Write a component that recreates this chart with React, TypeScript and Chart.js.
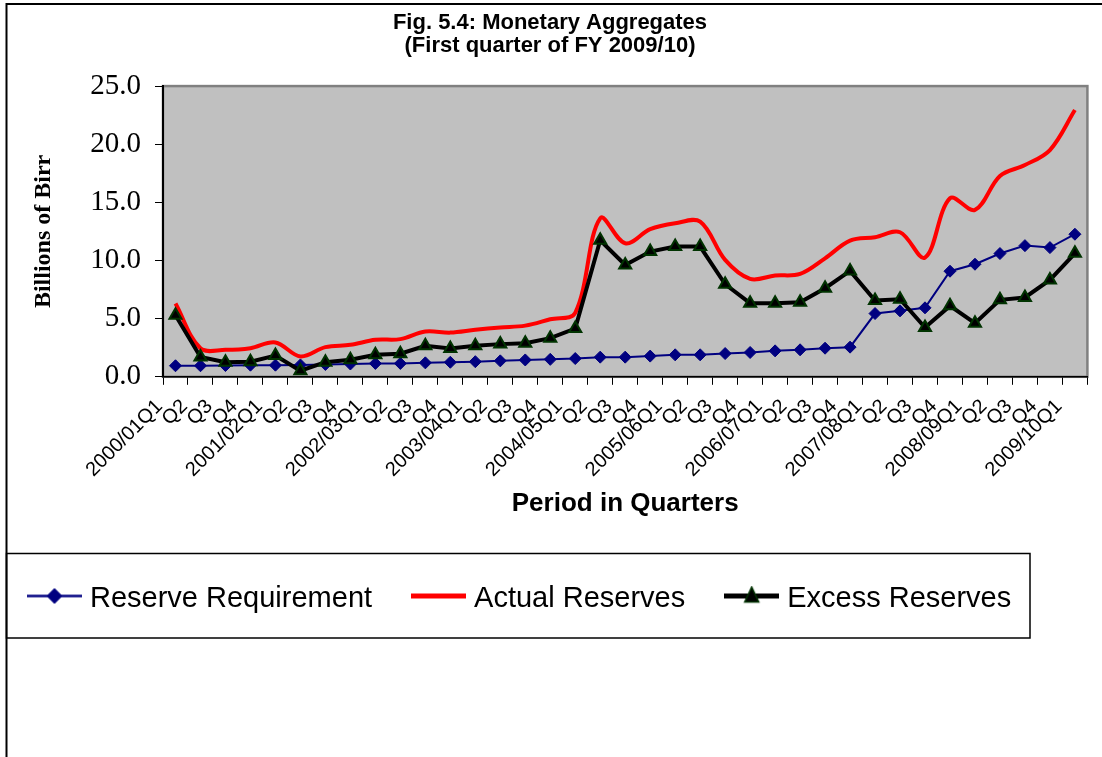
import React, { useEffect, useRef } from "react";
import { Chart, registerables } from "chart.js";

Chart.register(...registerables);

const quarterLabels = [
  "2000/01Q1", "Q2", "Q3", "Q4",
  "2001/02Q1", "Q2", "Q3", "Q4",
  "2002/03Q1", "Q2", "Q3", "Q4",
  "2003/04Q1", "Q2", "Q3", "Q4",
  "2004/05Q1", "Q2", "Q3", "Q4",
  "2005/06Q1", "Q2", "Q3", "Q4",
  "2006/07Q1", "Q2", "Q3", "Q4",
  "2007/08Q1", "Q2", "Q3", "Q4",
  "2008/09Q1", "Q2", "Q3", "Q4",
  "2009/10Q1",
];

const reserveRequirement = [
  0.95, 0.95, 0.97, 1.0, 1.0, 1.02, 1.06, 1.1, 1.15, 1.15, 1.2, 1.25, 1.3, 1.37, 1.45, 1.5, 1.57,
  1.69, 1.69, 1.78, 1.89, 1.89, 2.0, 2.09, 2.23, 2.32, 2.46, 2.55, 5.44, 5.67, 5.93, 9.08, 9.68,
  10.6, 11.28, 11.11, 12.26,
];

const actualReserves = [
  6.3, 2.45, 2.32, 2.46, 2.95, 1.75, 2.55, 2.75, 3.18, 3.24, 3.9, 3.8, 4.04, 4.24, 4.4, 4.95, 5.5,
  13.63, 11.48, 12.69, 13.2, 13.34, 10.05, 8.42, 8.71, 8.85, 10.19, 11.71, 12.0, 12.43, 10.25, 15.35,
  14.35, 17.27, 18.21, 19.5, 22.94,
];

const excessReserves = [
  5.3, 1.7, 1.26, 1.3, 1.83, 0.52, 1.26, 1.46, 1.89, 1.98, 2.66, 2.43, 2.66, 2.81, 2.89, 3.32, 4.15,
  11.74, 9.62, 10.77, 11.2, 11.2, 7.96, 6.33, 6.33, 6.41, 7.62, 9.1, 6.56, 6.67, 4.24, 6.1, 4.61,
  6.62, 6.82, 8.33, 10.62,
];

const yTickValues = [0, 5, 10, 15, 20, 25];

const seriesNames = ["Reserve Requirement", "Actual Reserves", "Excess Reserves"];

const SANS = '"Liberation Sans", Arial, Helvetica, sans-serif';
const SERIF = '"Liberation Serif", "Times New Roman", Times, serif';

type Marker = "none" | "diamond" | "triangle";

function makeLegendIcon(
  lineColor: string,
  lineWidth: number,
  marker: Marker,
  fill: string,
  stroke: string
): HTMLCanvasElement {
  const c = document.createElement("canvas");
  c.width = 55;
  c.height = 26;
  const ctx = c.getContext("2d") as CanvasRenderingContext2D;
  const cy = 10.5;
  const cx = 27.5;
  ctx.strokeStyle = lineColor;
  ctx.lineWidth = lineWidth;
  ctx.beginPath();
  ctx.moveTo(0, cy);
  ctx.lineTo(55, cy);
  ctx.stroke();
  if (marker === "diamond") {
    const r = 7.5;
    ctx.beginPath();
    ctx.moveTo(cx - r, cy);
    ctx.lineTo(cx, cy - r);
    ctx.lineTo(cx + r, cy);
    ctx.lineTo(cx, cy + r);
    ctx.closePath();
    ctx.fillStyle = fill;
    ctx.fill();
    ctx.strokeStyle = stroke;
    ctx.lineWidth = 1;
    ctx.stroke();
  } else if (marker === "triangle") {
    ctx.beginPath();
    ctx.moveTo(cx, cy - 9);
    ctx.lineTo(cx + 7, cy + 6);
    ctx.lineTo(cx - 7, cy + 6);
    ctx.closePath();
    ctx.fillStyle = fill;
    ctx.fill();
    ctx.strokeStyle = stroke;
    ctx.lineWidth = 1.5;
    ctx.stroke();
  }
  return c;
}

const framePlugin = {
  id: "frame",
  beforeDraw(chart: any) {
    const { ctx, chartArea: a } = chart;
    ctx.save();
    ctx.fillStyle = "#ffffff";
    ctx.fillRect(0, 0, chart.width, chart.height);
    // outer chart box (left and top edges visible)
    ctx.strokeStyle = "#000000";
    ctx.lineWidth = 2;
    ctx.beginPath();
    ctx.moveTo(6.5, chart.height);
    ctx.lineTo(6.5, 4);
    ctx.lineTo(chart.width, 4);
    ctx.stroke();
    // legend box
    ctx.lineWidth = 1.5;
    ctx.strokeRect(6.5, 553.5, 1023.5, 84.5);
    // plot area
    ctx.fillStyle = "#C0C0C0";
    ctx.fillRect(a.left, a.top, a.right - a.left, a.bottom - a.top);
    ctx.strokeStyle = "#808080";
    ctx.lineWidth = 2.5;
    ctx.strokeRect(a.left, a.top, a.right - a.left, a.bottom - a.top);
    ctx.restore();
  },
};

export default function App() {
  const ref = useRef<HTMLCanvasElement>(null);

  useEffect(() => {
    const canvas = ref.current;
    if (!canvas) return;
    const icons = [
      makeLegendIcon("#000080", 2.5, "diamond", "#000080", "#000080"),
      makeLegendIcon("#FF0000", 5, "none", "", ""),
      makeLegendIcon("#000000", 5, "triangle", "#000000", "#003300"),
    ];

    const chart = new Chart(canvas, {
      type: "line",
      data: {
        labels: quarterLabels,
        datasets: [
          {
            label: seriesNames[0],
            data: reserveRequirement,
            borderColor: "#000080",
            backgroundColor: "#000080",
            borderWidth: 2,
            pointStyle: "rectRot",
            pointRadius: 6,
            pointBackgroundColor: "#000080",
            pointBorderColor: "#000080",
            pointBorderWidth: 1,
            tension: 0,
            order: 3,
          },
          {
            label: seriesNames[1],
            data: actualReserves,
            borderColor: "#FF0000",
            backgroundColor: "#FF0000",
            borderWidth: 4,
            pointRadius: 0,
            tension: 0.35,
            order: 2,
          },
          {
            label: seriesNames[2],
            data: excessReserves,
            borderColor: "#000000",
            backgroundColor: "#000000",
            borderWidth: 4,
            pointStyle: "triangle",
            pointRadius: 7,
            pointBackgroundColor: "#000000",
            pointBorderColor: "#003300",
            pointBorderWidth: 2,
            tension: 0,
            order: 1,
          },
        ],
      },
      options: {
        responsive: false,
        animation: false,
        devicePixelRatio: 1,
        events: [],
        layout: { padding: { left: -12, right: -10, top: 0, bottom: 134 } },
        plugins: {
          title: {
            display: true,
            text: ["Fig. 5.4: Monetary Aggregates", "(First quarter of FY 2009/10)"],
            font: { family: SANS, size: 22, weight: "bold", lineHeight: 1.07 },
            color: "#000000",
            padding: { top: 11, bottom: 28 },
          },
          legend: {
            display: true,
            position: "bottom",
            align: "start",
            labels: {
              usePointStyle: true,
              pointStyleWidth: 42,
              padding: 45.5,
              color: "#000000",
              font: { family: SANS, size: 29 },
              generateLabels: (ch: any) => {
                const items = (Chart.defaults as any).plugins.legend.labels.generateLabels(ch);
                items.forEach((it: any) => {
                  it.pointStyle = icons[it.datasetIndex];
                  it.rotation = 0;
                });
                return items;
              },
              sort: (a: any, b: any) => a.datasetIndex - b.datasetIndex,
            },
          },
          tooltip: { enabled: false },
        },
        scales: {
          x: {
            type: "category",
            offset: true,
            ticks: {
              autoSkip: false,
              minRotation: 45,
              maxRotation: 45,
              labelOffset: -16,
              padding: 10,
              color: "#000000",
              font: { family: SANS, size: 20 },
            },
            grid: {
              offset: true,
              drawOnChartArea: false,
              drawTicks: true,
              tickLength: 8,
              color: "#000000",
              lineWidth: 1,
            },
            border: { display: true, color: "#000000", width: 1.5 },
            title: {
              display: true,
              text: "Period in Quarters",
              color: "#000000",
              font: { family: SANS, size: 26, weight: "bold", lineHeight: 1.2 },
              padding: { top: 0, bottom: 19 },
            },
            afterFit: (s: any) => {
              s.height = 161.7;
            },
          },
          y: {
            type: "linear",
            position: "left",
            min: 0,
            max: 25,
            afterBuildTicks: (s: any) => {
              s.ticks = yTickValues.map((v) => ({ value: v }));
            },
            ticks: {
              color: "#000000",
              padding: 14,
              font: { family: SERIF, size: 29 },
              callback: (v: any) => Number(v).toFixed(1),
            },
            grid: {
              drawOnChartArea: false,
              drawTicks: true,
              tickLength: 8,
              color: "#000000",
              lineWidth: 1,
            },
            border: { display: true, color: "#000000", width: 2 },
            title: {
              display: true,
              text: "Billions of Birr",
              color: "#000000",
              font: { family: SERIF, size: 24, weight: "bold", lineHeight: 1.2 },
              padding: { top: 41, bottom: 0 },
            },
            afterFit: (s: any) => {
              s.width = 175;
            },
          },
          yRightSpacer: {
            type: "linear",
            position: "right",
            display: true,
            ticks: { display: false },
            grid: { display: false },
            border: { display: false },
            afterFit: (s: any) => {
              s.width = 14;
            },
          },
        },
      } as any,
      plugins: [framePlugin],
    });

    return () => {
      chart.destroy();
    };
  }, []);

  return (
    <div
      style={{
        position: "fixed",
        left: 0,
        top: 0,
        width: 1102,
        height: 757,
        background: "#ffffff",
      }}
    >
      <canvas ref={ref} width={1102} height={757} style={{ display: "block" }} />
    </div>
  );
}
